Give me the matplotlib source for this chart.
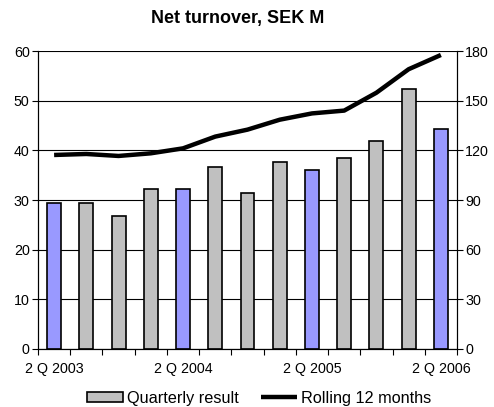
import matplotlib
matplotlib.use('Agg')
import matplotlib.pyplot as plt
import numpy as np

plt.rcParams['font.family'] = ['Liberation Sans', 'DejaVu Sans']

# data
quarters = ['2 Q 2003', '3 Q 2003', '4 Q 2003', '1 Q 2004', '2 Q 2004', '3 Q 2004', '4 Q 2004',
            '1 Q 2005', '2 Q 2005', '3 Q 2005', '4 Q 2005', '1 Q 2006', '2 Q 2006']
quarterly = [29.3, 29.3, 26.8, 32.2, 32.2, 36.7, 31.5, 37.7, 36.1, 38.5, 41.9, 52.3, 44.2]
rolling = [117.2, 117.8, 116.6, 118.2, 121.2, 128.3, 132.5, 138.5, 142.3, 144.0, 154.8, 169.0, 177.6]
shown_labels = ['2 Q 2003', '2 Q 2004', '2 Q 2005', '2 Q 2006']

x = np.arange(len(quarters))
colors = ['#9999FF' if q.startswith('2 Q') else '#C0C0C0' for q in quarters]

fig = plt.figure(figsize=(4.94, 4.07), dpi=100)
ax = fig.add_axes([38/494, 1-349/407, 419/494, 298/407])
ax2 = ax.twinx()

ax.set_axisbelow(True)
ax.yaxis.grid(True, color='black', linewidth=0.8)
ax.bar(x, quarterly, width=0.43, color=colors, edgecolor='black', linewidth=1.2, zorder=2)
bar_handle = plt.Rectangle((0, 0), 1, 1, facecolor='#C0C0C0', edgecolor='black', linewidth=1.2)
line, = ax2.plot(x, rolling, color='black', linewidth=3.2, solid_capstyle='butt')

ax.set_xlim(-0.5, len(quarters) - 0.5)
ax.set_ylim(0, 60)
ax2.set_ylim(0, 180)
ax.set_yticks(np.arange(0, 61, 10))
ax2.set_yticks(np.arange(0, 181, 30))

ax.set_xticks([quarters.index(q) for q in shown_labels])
ax.set_xticklabels(shown_labels)
ax.set_xticks(np.arange(-0.5, len(quarters), 1), minor=True)
ax.tick_params(axis='x', which='major', length=0, pad=9, labelsize=10.3)
ax.tick_params(axis='x', which='minor', length=4, direction='out', width=0.8)
ax.tick_params(axis='y', length=4, width=0.8, labelsize=10.3, pad=2)
ax2.tick_params(axis='y', length=4, width=0.8, labelsize=10.3, pad=2)

for a in (ax, ax2):
    a.spines['top'].set_visible(False)
    for s in ('left', 'right', 'bottom'):
        a.spines[s].set_linewidth(0.8)

fig.text(238/494, 1-18/407, 'Net turnover, SEK M', ha='center', va='center',
         fontsize=13, fontweight='bold')

fig.legend([bar_handle, line], ['Quarterly result', 'Rolling 12 months'],
           loc='center', bbox_to_anchor=(259/494, 1-398/407), ncol=2, frameon=False,
           fontsize=11.7, handlelength=2.2, handleheight=0.6, columnspacing=1.4,
           handletextpad=0.25, borderpad=0.1)

fig.savefig('out.png', dpi=100)
